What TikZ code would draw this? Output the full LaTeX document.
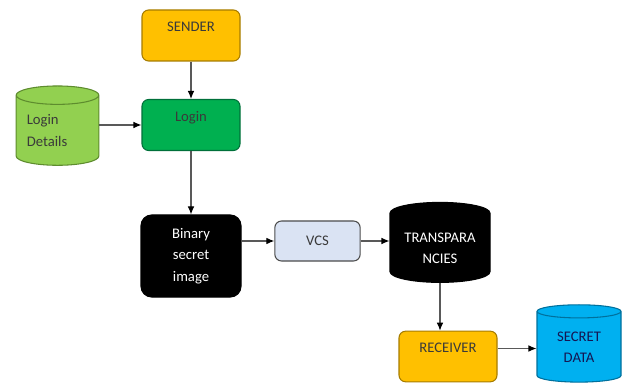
\documentclass[tikz,border=0pt]{standalone}
\usepackage{fontspec}
\setmainfont{Carlito}
\usetikzlibrary{shapes.geometric, arrows.meta}

\definecolor{sendfill}{HTML}{FFC000}
\definecolor{senddraw}{HTML}{A67C00}
\definecolor{loginfill}{HTML}{00B050}
\definecolor{logindraw}{HTML}{00703A}
\definecolor{detfill}{HTML}{92D050}
\definecolor{detdraw}{HTML}{5E8C2E}
\definecolor{vcsfill}{HTML}{DAE3F3}
\definecolor{secfill}{HTML}{00B0F0}
\definecolor{secdraw}{HTML}{00709C}
\definecolor{txtgray}{HTML}{3A3A3A}

\tikzset{
  box/.style={rectangle, rounded corners=5pt, line width=0.8pt, font=\fontsize{11}{16}\selectfont, align=center, inner sep=0pt},
  toptext/.style={text height=16.5pt, text depth=21.75pt},
  drum/.style={cylinder, shape border rotate=90, aspect=0.3, line width=0.8pt, font=\fontsize{11}{16}\selectfont, inner sep=0pt},
  conn/.style={draw=black!65, line width=0.8pt, -{Latex[length=6pt, width=5pt, black]}}
}

\begin{document}
\begin{tikzpicture}[x=0.75pt, y=-0.75pt]
\useasboundingbox (0,0) rectangle (623,384);

\node[box, toptext, fill=sendfill, draw=senddraw, text=txtgray, minimum width=73.5pt] (sender) at (191,35.5) {SENDER};

\node[box, toptext, fill=loginfill, draw=logindraw, text=txtgray, minimum width=73.5pt] (login) at (191,125) {Login};

\node[drum, fill=detfill, draw=detdraw, text=txtgray, minimum width=62pt, minimum height=59.5pt, text width=46pt, align=left] (details) at (57.5,130.5) {Login\\Details};

\node[box, fill=black, draw=black, text=white, minimum width=75pt, minimum height=61.5pt, rounded corners=8pt] (binary) at (191,256) {Binary\\secret\\image};

\node[box, fill=vcsfill, draw=black!70, text=txtgray, minimum width=64pt, minimum height=30pt] (vcs) at (317.5,241) {VCS};

\node[drum, fill=black, draw=black, text=white, minimum width=75pt, minimum height=60pt, align=center] (trans) at (440,248) {TRANSPARA\\NCIES};

\node[box, fill=sendfill, draw=senddraw, text=txtgray, minimum width=73.5pt, minimum height=38pt, text height=7pt, text depth=13pt] (receiver) at (448,356.5) {RECEIVER};

\node[drum, fill=secfill, draw=secdraw, text=txtgray!60!blue!60!black, minimum width=63pt, minimum height=58pt, align=center] (secret) at (579,347) {SECRET\\DATA};

\draw[conn] (sender) -- (login);
\draw[conn] (login.west -| details.east) -- (login.west);
\draw[conn] (login) -- (binary);
\draw[conn] (vcs.west -| binary.east) -- (vcs.west);
\draw[conn] (vcs.east) -- (vcs.east -| trans.west);
\draw[conn] (trans.south) -- (receiver.north -| trans.south);
\draw[conn] ([yshift=6pt]receiver.east) -- ([yshift=6pt]receiver.east -| secret.west);

\end{tikzpicture}
\end{document}
